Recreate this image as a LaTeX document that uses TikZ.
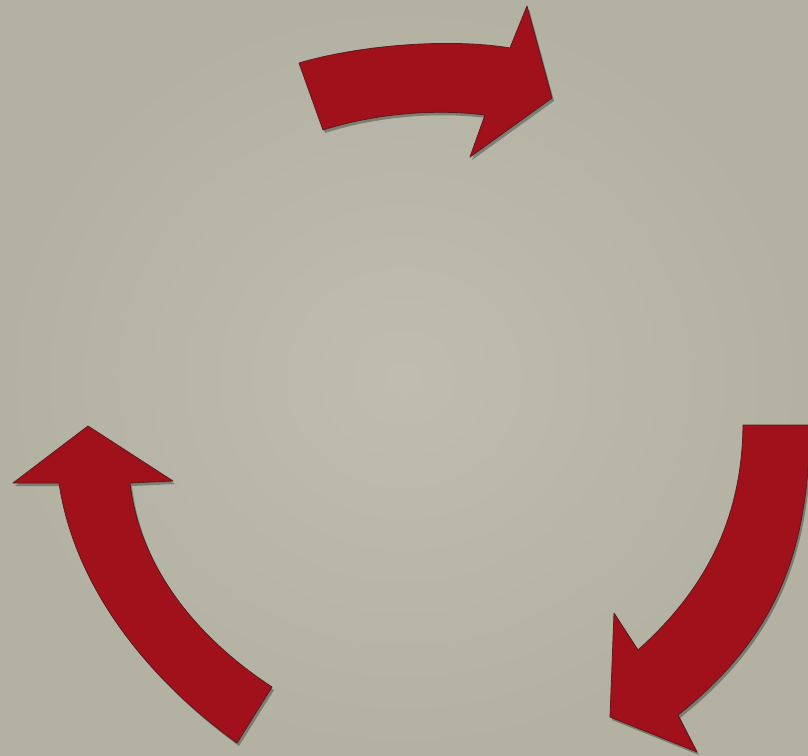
\documentclass[tikz,border=0pt]{standalone}
\usetikzlibrary{shadows}
\definecolor{bgmid}{RGB}{190,189,176}
\definecolor{bgedge}{RGB}{178,177,162}
\definecolor{arrowred}{RGB}{160,17,27}
\definecolor{arrowline}{RGB}{95,25,25}
\tikzset{
  curvedarrow/.style={fill=arrowred, draw=arrowline, line width=0.8pt, line join=round,
    drop shadow={shadow xshift=2pt, shadow yshift=-3pt, opacity=0.3, fill=black}}
}
\begin{document}
\begin{tikzpicture}[x=1pt,y=-1pt]
  \useasboundingbox (0,0) rectangle (808,755);
  \shade[inner color=bgmid, outer color=bgedge] (0,0) rectangle (808,755);
  % top arrow
  \path[curvedarrow] (299,63) .. controls (360,45) and (450,38) .. (510,48)
    -- (527,6) -- (552,98) -- (470,157) -- (485,115)
    .. controls (430,108) and (370,115) .. (323,130) -- cycle;
  % left arrow
  \path[curvedarrow] (88,426) -- (173,481) -- (130,483)
    .. controls (140,570) and (200,640) .. (272,687) -- (237,743)
    .. controls (150,680) and (75,590) .. (59,483) -- (13,483) -- cycle;
  % right arrow
  \path[curvedarrow] (743,425) -- (810,425)
    .. controls (808,540) and (785,630) .. (678,715) -- (697,752)
    -- (610,717) -- (614,613) -- (638,650)
    .. controls (705,590) and (742,520) .. (743,425) -- cycle;
\end{tikzpicture}
\end{document}
